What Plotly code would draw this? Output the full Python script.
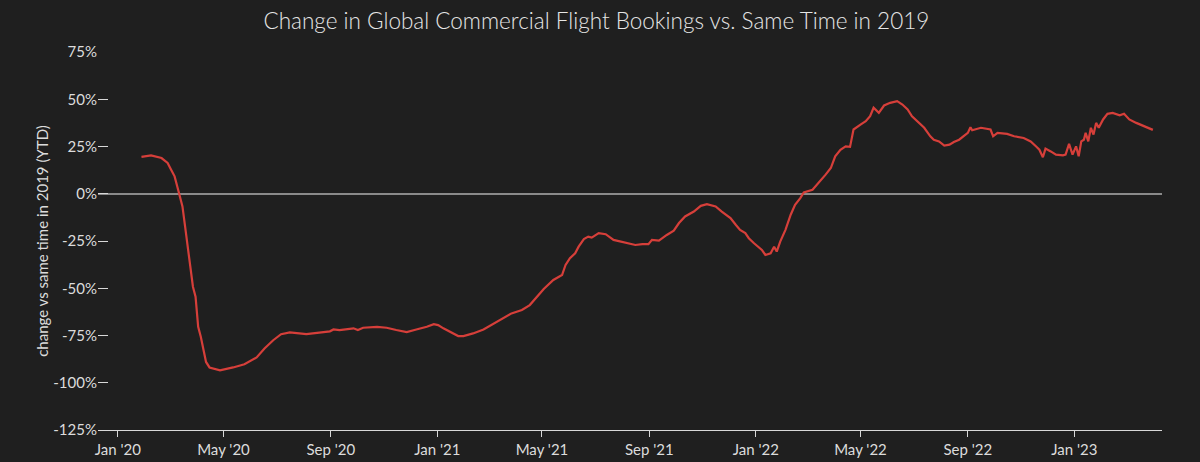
import plotly.graph_objects as go

dates = [
    "2020-01-28", "2020-02-08", "2020-02-20", "2020-02-27", "2020-03-02", "2020-03-06",
    "2020-03-11", "2020-03-15", "2020-03-18", "2020-03-21", "2020-03-24", "2020-03-27",
    "2020-03-30", "2020-04-02", "2020-04-05", "2020-04-08", "2020-04-11", "2020-04-15",
    "2020-04-27", "2020-05-12", "2020-05-25", "2020-06-08", "2020-06-17", "2020-06-27",
    "2020-07-06", "2020-07-16", "2020-08-04", "2020-08-31", "2020-09-04", "2020-09-11",
    "2020-09-27", "2020-10-02", "2020-10-08", "2020-10-24", "2020-11-04", "2020-11-15",
    "2020-11-27", "2020-12-08", "2020-12-20", "2020-12-28", "2021-01-02", "2021-01-08",
    "2021-01-16", "2021-01-25", "2021-01-31", "2021-02-11", "2021-02-23", "2021-03-06",
    "2021-03-18", "2021-03-27", "2021-04-08", "2021-04-17", "2021-05-03", "2021-05-08",
    "2021-05-14", "2021-05-24", "2021-05-28", "2021-06-02", "2021-06-08", "2021-06-12",
    "2021-06-18", "2021-06-23", "2021-06-27", "2021-07-05", "2021-07-13", "2021-07-22",
    "2021-08-03", "2021-08-16", "2021-08-24", "2021-08-31", "2021-09-04", "2021-09-12",
    "2021-09-21", "2021-09-29", "2021-10-05", "2021-10-12", "2021-10-22", "2021-10-30",
    "2021-11-06", "2021-11-16", "2021-11-23", "2021-12-03", "2021-12-09", "2021-12-14",
    "2021-12-20", "2021-12-24", "2021-12-30", "2022-01-04", "2022-01-08", "2022-01-12",
    "2022-01-18", "2022-01-22", "2022-01-25", "2022-01-29", "2022-02-04", "2022-02-10",
    "2022-02-15", "2022-02-21", "2022-02-25", "2022-03-07", "2022-03-14", "2022-03-22",
    "2022-03-28", "2022-04-02", "2022-04-08", "2022-04-14", "2022-04-19", "2022-04-23",
    "2022-05-01", "2022-05-07", "2022-05-12", "2022-05-16", "2022-05-22", "2022-05-28",
    "2022-06-04", "2022-06-12", "2022-06-18", "2022-06-24", "2022-06-29", "2022-07-05",
    "2022-07-13", "2022-07-20", "2022-07-24", "2022-07-30", "2022-08-05", "2022-08-11",
    "2022-08-16", "2022-08-22", "2022-08-28", "2022-09-01", "2022-09-04", "2022-09-06",
    "2022-09-16", "2022-09-22", "2022-09-27", "2022-09-30", "2022-10-05", "2022-10-16",
    "2022-10-24", "2022-11-04", "2022-11-12", "2022-11-18", "2022-11-22", "2022-11-26",
    "2022-11-29", "2022-12-05", "2022-12-11", "2022-12-19", "2022-12-22", "2022-12-26",
    "2022-12-30", "2023-01-03", "2023-01-06", "2023-01-09", "2023-01-12", "2023-01-14",
    "2023-01-17", "2023-01-20", "2023-01-23", "2023-01-26", "2023-01-29", "2023-02-03",
    "2023-02-08", "2023-02-14", "2023-02-22", "2023-02-27", "2023-03-05", "2023-03-13",
    "2023-03-21", "2023-03-26", "2023-04-01",
]

change_pct = [
    19.5, 20.3, 18.9, 16.3, 12.7, 9.2,
    0.4, -6.7, -17.3, -28.0, -38.6, -49.2,
    -54.5, -70.4, -75.7, -82.8, -89.0, -91.9,
    -93.4, -91.9, -90.2, -86.6, -81.9, -77.5,
    -74.3, -73.4, -74.3, -72.8, -71.8, -72.1,
    -71.2, -72.1, -70.9, -70.4, -70.9, -72.1,
    -73.2, -71.8, -70.4, -69.0, -69.5, -71.2,
    -73.0, -75.3, -75.3, -73.9, -71.8, -69.0,
    -65.9, -63.3, -61.5, -58.9, -50.4, -48.3,
    -45.6, -43.0, -37.7, -34.1, -31.5, -28.0,
    -24.0, -22.7, -23.2, -20.8, -21.4, -24.4,
    -25.6, -27.1, -26.7, -26.7, -24.4, -24.8,
    -21.8, -19.5, -15.5, -12.0, -9.4, -6.4,
    -5.5, -6.7, -9.4, -12.9, -16.4, -19.1,
    -20.8, -23.5, -26.2, -28.0, -29.7, -32.4,
    -31.5, -28.0, -30.6, -25.3, -19.1, -11.1,
    -5.8, -2.3, 0.7, 2.1, 5.7, 10.1,
    13.6, 19.8, 23.3, 25.1, 24.8, 34.0,
    36.6, 38.4, 41.0, 45.5, 42.8, 46.7,
    48.1, 49.0, 47.2, 44.6, 41.0, 38.4,
    34.9, 30.4, 28.6, 27.7, 25.5, 26.0,
    27.4, 28.6, 30.9, 32.2, 35.2, 33.6,
    34.9, 34.3, 34.0, 30.4, 32.2, 31.7,
    30.4, 29.5, 27.7, 25.1, 23.3, 19.3,
    23.9, 22.4, 20.7, 20.3, 20.7, 26.4,
    20.7, 25.1, 19.8, 27.7, 28.6, 32.2,
    27.7, 34.9, 31.3, 37.5, 34.9, 39.3,
    42.3, 42.8, 41.5, 42.3, 39.3, 37.5,
    36.1, 34.9, 33.8,
]

y_tick_values = [-125, -100, -75, -50, -25, 0, 25, 50, 75]
y_tick_labels = ["-125%", "-100%", "-75%", "-50%", "-25%", "0%", "25%", "50%", "75%"]

title_text = "Change in Global Commercial Flight Bookings vs. Same Time in 2019"
y_title = "change vs same time in 2019 (YTD)"

BG = "#1f1f1f"
TXT = "#dcdcdc"
FONT = "Lato, 'Open Sans', sans-serif"

fig = go.Figure()
fig.add_trace(go.Scatter(
    x=dates, y=change_pct, mode="lines",
    line=dict(color="#d63f3a", width=2.2),
    showlegend=False,
))

fig.update_layout(
    width=1200, height=462,
    paper_bgcolor=BG, plot_bgcolor=BG,
    margin=dict(l=98, r=38, t=52, b=32, autoexpand=False),
    font=dict(family=FONT, color=TXT, size=15),
    title=dict(text=title_text, x=0.497, xanchor="center", y=0.955, yanchor="middle",
               yref="container", font=dict(size=22.5, color="#e6e6e6", family=FONT, weight=300)),
    xaxis=dict(
        type="date", automargin=False,
        range=["2019-12-09 05:00", "2023-04-11 12:00"],
        tick0="2020-01-01", dtick="M4", tickformat="%b '%y",
        showgrid=False, zeroline=False,
        showline=True, linecolor="#d8d8d8", linewidth=1,
        ticks="outside", ticklen=6, tickcolor="#d8d8d8", tickwidth=1,
        tickfont=dict(size=15, color=TXT),
    ),
    yaxis=dict(
        range=[-125, 75], automargin=False,
        tickmode="array", tickvals=y_tick_values, ticktext=y_tick_labels,
        showgrid=False, showline=False,
        zeroline=True, zerolinecolor="#8a8a8a", zerolinewidth=1.5,
        ticks="inside", ticklen=10, tickcolor="#d8d8d8", tickwidth=1,
        tickfont=dict(size=15, color=TXT),
        title=dict(text=y_title, standoff=1, font=dict(size=15, color=TXT)),
    ),
)

fig.write_html("out.html")
